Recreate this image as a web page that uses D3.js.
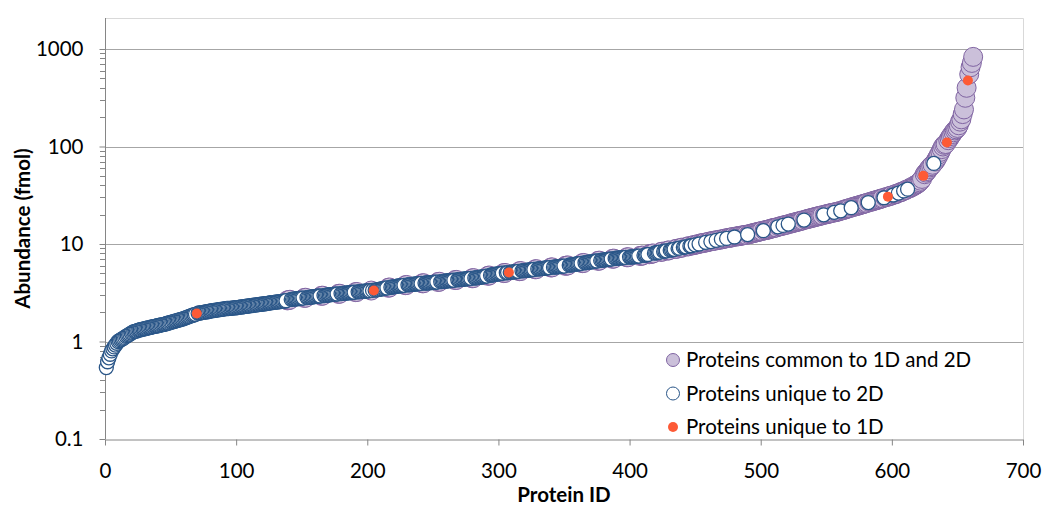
<!DOCTYPE html>
<html><head><meta charset="utf-8">
<script src="https://cdn.jsdelivr.net/npm/d3@7"></script>
<style>
body{margin:0;background:#fff}
svg{display:block}
text{font-family:Lato,"Open Sans",sans-serif;fill:#000}
</style>
</head><body>
<svg id="chart" width="1042" height="505"></svg>
<script>
// Abundance (fmol) for protein IDs 1..662, sorted ascending
const abundance = [
0.54,0.62,0.68,0.74,0.80,0.84,0.88,0.92,0.96,1.00,
1.02,1.04,1.06,1.08,1.10,1.13,1.15,1.17,1.19,1.22,
1.24,1.26,1.27,1.28,1.30,1.31,1.32,1.33,1.34,1.35,
1.36,1.37,1.38,1.39,1.40,1.41,1.42,1.43,1.44,1.45,
1.46,1.47,1.48,1.49,1.50,1.51,1.53,1.54,1.55,1.57,
1.58,1.60,1.61,1.63,1.64,1.66,1.67,1.69,1.70,1.72,
1.74,1.76,1.78,1.80,1.82,1.84,1.86,1.88,1.90,1.94,
1.95,1.96,1.97,1.98,1.99,2.00,2.01,2.02,2.03,2.05,
2.06,2.07,2.08,2.09,2.10,2.11,2.12,2.13,2.14,2.15,
2.16,2.17,2.18,2.18,2.19,2.19,2.20,2.21,2.21,2.22,
2.23,2.24,2.25,2.26,2.27,2.28,2.29,2.30,2.31,2.32,
2.33,2.34,2.35,2.36,2.37,2.38,2.39,2.40,2.41,2.42,
2.43,2.44,2.45,2.46,2.48,2.49,2.50,2.51,2.52,2.53,
2.54,2.55,2.56,2.57,2.58,2.59,2.60,2.62,2.64,2.66,
2.68,2.70,2.71,2.72,2.73,2.74,2.75,2.76,2.77,2.78,
2.79,2.80,2.81,2.82,2.83,2.84,2.85,2.86,2.88,2.89,
2.90,2.91,2.92,2.93,2.94,2.95,2.96,2.97,2.98,3.00,
3.01,3.02,3.03,3.04,3.05,3.06,3.07,3.08,3.09,3.10,
3.11,3.12,3.13,3.14,3.15,3.16,3.17,3.18,3.19,3.20,
3.21,3.22,3.23,3.24,3.25,3.26,3.27,3.28,3.29,3.30,
3.31,3.32,3.33,3.34,3.34,3.36,3.38,3.40,3.42,3.44,
3.46,3.48,3.50,3.52,3.54,3.56,3.58,3.60,3.62,3.64,
3.66,3.68,3.70,3.71,3.72,3.74,3.75,3.77,3.78,3.80,
3.81,3.82,3.84,3.85,3.86,3.88,3.89,3.90,3.92,3.93,
3.94,3.95,3.96,3.97,3.98,3.99,4.00,4.01,4.02,4.03,
4.04,4.05,4.07,4.08,4.10,4.11,4.12,4.14,4.15,4.17,
4.18,4.20,4.21,4.22,4.24,4.25,4.27,4.28,4.30,4.31,
4.32,4.34,4.35,4.37,4.38,4.40,4.41,4.42,4.44,4.45,
4.47,4.48,4.50,4.52,4.54,4.56,4.58,4.60,4.63,4.66,
4.69,4.72,4.75,4.78,4.81,4.84,4.87,4.90,4.92,4.95,
4.97,4.99,5.01,5.03,5.05,5.07,5.09,5.10,5.12,5.14,
5.16,5.18,5.20,5.22,5.24,5.26,5.28,5.30,5.32,5.34,
5.36,5.38,5.40,5.42,5.44,5.46,5.48,5.50,5.52,5.54,
5.56,5.58,5.60,5.62,5.64,5.66,5.68,5.70,5.72,5.74,
5.76,5.78,5.80,5.82,5.84,5.86,5.88,5.90,5.92,5.94,
5.97,6.00,6.03,6.06,6.09,6.12,6.15,6.18,6.21,6.24,
6.27,6.30,6.33,6.36,6.39,6.42,6.45,6.48,6.51,6.54,
6.57,6.60,6.63,6.66,6.69,6.72,6.75,6.78,6.81,6.84,
6.87,6.90,6.93,6.96,6.99,7.02,7.05,7.08,7.11,7.14,
7.16,7.18,7.20,7.22,7.24,7.26,7.28,7.30,7.32,7.34,
7.36,7.38,7.40,7.43,7.46,7.49,7.52,7.55,7.58,7.61,
7.65,7.70,7.75,7.80,7.85,7.90,7.95,8.00,8.05,8.10,
8.15,8.20,8.25,8.30,8.35,8.40,8.45,8.50,8.55,8.60,
8.65,8.70,8.76,8.82,8.88,8.94,9.00,9.06,9.12,9.18,
9.24,9.30,9.36,9.42,9.48,9.54,9.60,9.67,9.74,9.81,
9.88,9.95,10.0,10.1,10.2,10.2,10.3,10.4,10.4,10.5,
10.6,10.6,10.7,10.8,10.8,10.9,11.0,11.0,11.1,11.2,
11.2,11.3,11.4,11.4,11.5,11.6,11.6,11.7,11.8,11.8,
11.9,12.0,12.0,12.1,12.2,12.2,12.3,12.4,12.4,12.5,
12.6,12.7,12.8,12.9,13.0,13.1,13.2,13.3,13.4,13.5,
13.6,13.7,13.8,13.9,14.0,14.1,14.2,14.4,14.5,14.6,
14.7,14.8,15.0,15.1,15.2,15.3,15.5,15.6,15.7,15.8,
16.0,16.1,16.2,16.4,16.5,16.6,16.8,16.9,17.0,17.2,
17.3,17.5,17.6,17.8,17.9,18.1,18.2,18.4,18.5,18.7,
18.8,19.0,19.1,19.3,19.4,19.6,19.7,19.9,20.0,20.2,
20.3,20.5,20.6,20.8,20.9,21.1,21.2,21.4,21.5,21.7,
21.9,22.1,22.3,22.5,22.8,23.0,23.2,23.4,23.6,23.9,
24.1,24.3,24.5,24.7,24.9,25.2,25.4,25.6,25.9,26.1,
26.4,26.6,26.9,27.1,27.4,27.6,27.9,28.1,28.4,28.6,
28.9,29.2,29.5,29.8,30.1,30.3,30.6,30.9,31.2,31.5,
31.8,32.1,32.5,32.9,33.3,33.7,34.1,34.5,35.0,35.5,
36.0,36.5,37.0,37.6,38.2,38.8,39.5,40.2,41.0,41.8,
43.0,44.5,46.5,50.0,52.0,54.0,56.0,58.5,61.0,63.0,
65.0,67.0,70.0,74.0,78.0,83.0,88.0,94.0,100,104,
106,110,116,122,128,134,140,146,150,155,
165,180,190,215,240,316,400,475,550,650,
720,830
];

// Protein IDs found in both 1D and 2D
const commonIds = [
139,140,141,152,153,165,166,178,179,191,192,203,216,217,229,230,242,243,254,255,
267,268,280,281,292,293,304,305,316,317,328,329,340,341,351,352,353,364,365,376,377,
387,388,398,399,408,409,410,415,416,417,418,
424,425,429,430,435,436,439,440,444,445,448,449,
451,452,454,455,456,457,459,460,461,463,464,465,467,468,469,471,472,473,
475,476,477,478,479,481,482,483,484,485,486,487,488,489,
491,492,493,494,495,496,497,498,499,500,501,503,504,505,506,507,508,509,510,511,512,
514,515,516,518,519,520,522,523,524,525,526,527,528,529,530,531,532,
534,535,536,537,538,539,540,541,542,543,544,545,546,547,549,550,551,552,553,554,555,
557,558,559,560,562,563,564,565,566,567,568,570,571,572,573,574,575,576,577,578,579,580,581,
583,584,585,586,587,588,589,590,591,592,593,595,596,598,599,600,602,603,604,606,607,608,610,611,
613,614,615,616,617,618,619,620,621,622,623,625,626,627,628,629,630,631,
633,634,635,636,637,638,639,640,641,643,644,645,646,647,648,649,650,651,652,653,654,655,656,657,
659,660,661,662
];
// Protein IDs found only in 1D
const unique1DIds = [70,205,308,597,624,642,658];
// all remaining IDs are unique to 2D

const seriesNames = ["Proteins common to 1D and 2D","Proteins unique to 2D","Proteins unique to 1D"];
const xTickValues = [0,100,200,300,400,500,600,700];
const yTickValues = [0.1,1,10,100,1000];
const yTickLabels = ["0.1","1","10","100","1000"];
const xTitle = "Protein ID";
const yTitle = "Abundance (fmol)";

// ---------- layout & style ----------
const W = 1042, H = 505;
const L = 105, R = 1023, T = 18, B = 439;
const FS = 20.5;
const styles = {
  common: {r: 9.5, fill: "#cbc0da", stroke: "#8064a2", sw: 1},
  u2D:    {r: 7,   fill: "#ffffff", stroke: "#2a5688", sw: 1.3},
  u1D:    {r: 5,   fill: "#fd5a36", stroke: "none",    sw: 0}
};

const svg = d3.select("#chart");
svg.append("rect").attr("width", W).attr("height", H).attr("fill", "#fff");

const x = d3.scaleLinear().domain([0, 700]).range([L, R]);
const y = d3.scaleLog().domain([0.1, 1000]).range([B, 49]);

const commonSet = new Set(commonIds), oneDSet = new Set(unique1DIds);
const proteins = abundance.map((v, i) => {
  const id = i + 1;
  return {id, v, g: oneDSet.has(id) ? "u1D" : commonSet.has(id) ? "common" : "u2D"};
});

// plot frame (top / right)
svg.append("path").attr("d", `M${L},${T + 0.5}H${R + 0.5}V${B}`).attr("fill", "none")
  .attr("stroke", "#d9d9d9").attr("stroke-width", 1);

// gridlines
svg.append("g").selectAll("line").data(yTickValues.slice(1)).join("line")
  .attr("x1", L).attr("x2", R)
  .attr("y1", d => Math.round(y(d)) + 0.5).attr("y2", d => Math.round(y(d)) + 0.5)
  .attr("stroke", "#a6a6a6").attr("stroke-width", 1);

// minor y ticks
const minor = [];
yTickValues.slice(0, -1).forEach(d => { for (let k = 2; k <= 9; k++) minor.push(d * k); });
svg.append("g").selectAll("line").data(minor).join("line")
  .attr("x1", L - 5).attr("x2", L)
  .attr("y1", d => Math.round(y(d)) + 0.5).attr("y2", d => Math.round(y(d)) + 0.5)
  .attr("stroke", "#868686");

// y axis
const yAxis = svg.append("g").attr("transform", `translate(${L + 0.5},0)`)
  .call(d3.axisLeft(y).tickValues(yTickValues).tickFormat((d, i) => yTickLabels[i])
    .tickSize(6).tickPadding(16).tickSizeOuter(0));
yAxis.select(".domain").attr("d", `M0,${T}V${B}`).attr("stroke", "#868686");
yAxis.selectAll(".tick line").attr("stroke", "#868686");
yAxis.selectAll(".tick text").attr("font-size", FS).attr("font-family", "Lato");

// x axis
const xAxis = svg.append("g").attr("transform", `translate(0,${B + 0.5})`)
  .call(d3.axisBottom(x).tickValues(xTickValues).tickFormat(d3.format("d"))
    .tickSize(6).tickPadding(18).tickSizeOuter(0));
xAxis.select(".domain").attr("stroke", "#868686");
xAxis.selectAll(".tick line").attr("stroke", "#868686");
xAxis.selectAll(".tick text").attr("font-size", FS).attr("font-family", "Lato");

// points: series drawn in order
["common", "u2D", "u1D"].forEach(g => {
  const s = styles[g];
  svg.append("g").selectAll("circle").data(proteins.filter(p => p.g === g)).join("circle")
    .attr("cx", d => x(d.id)).attr("cy", d => y(d.v)).attr("r", s.r)
    .attr("fill", s.fill).attr("stroke", s.stroke).attr("stroke-width", s.sw);
});

// axis titles
svg.append("text").attr("x", (L + R) / 2).attr("y", 502).attr("text-anchor", "middle")
  .attr("font-size", FS).attr("font-weight", "bold").text(xTitle);
svg.append("text").attr("transform", `translate(30,${(T + B) / 2}) rotate(-90)`)
  .attr("text-anchor", "middle").attr("font-size", FS).attr("font-weight", "bold").text(yTitle);

// legend
const legendKeys = ["common", "u2D", "u1D"];
const legendR = [6.5, 6.5, 5];
const leg = svg.append("g");
legendKeys.forEach((g, i) => {
  const cy = 360 + i * 33.5;
  const s = styles[g];
  leg.append("circle").attr("cx", 673).attr("cy", cy).attr("r", legendR[i])
    .attr("fill", s.fill).attr("stroke", s.stroke).attr("stroke-width", g === "u2D" ? 1 : s.sw);
  leg.append("text").attr("x", 686).attr("y", cy).attr("dy", "0.36em")
    .attr("font-size", FS).text(seriesNames[i]);
});
</script>
</body></html>
